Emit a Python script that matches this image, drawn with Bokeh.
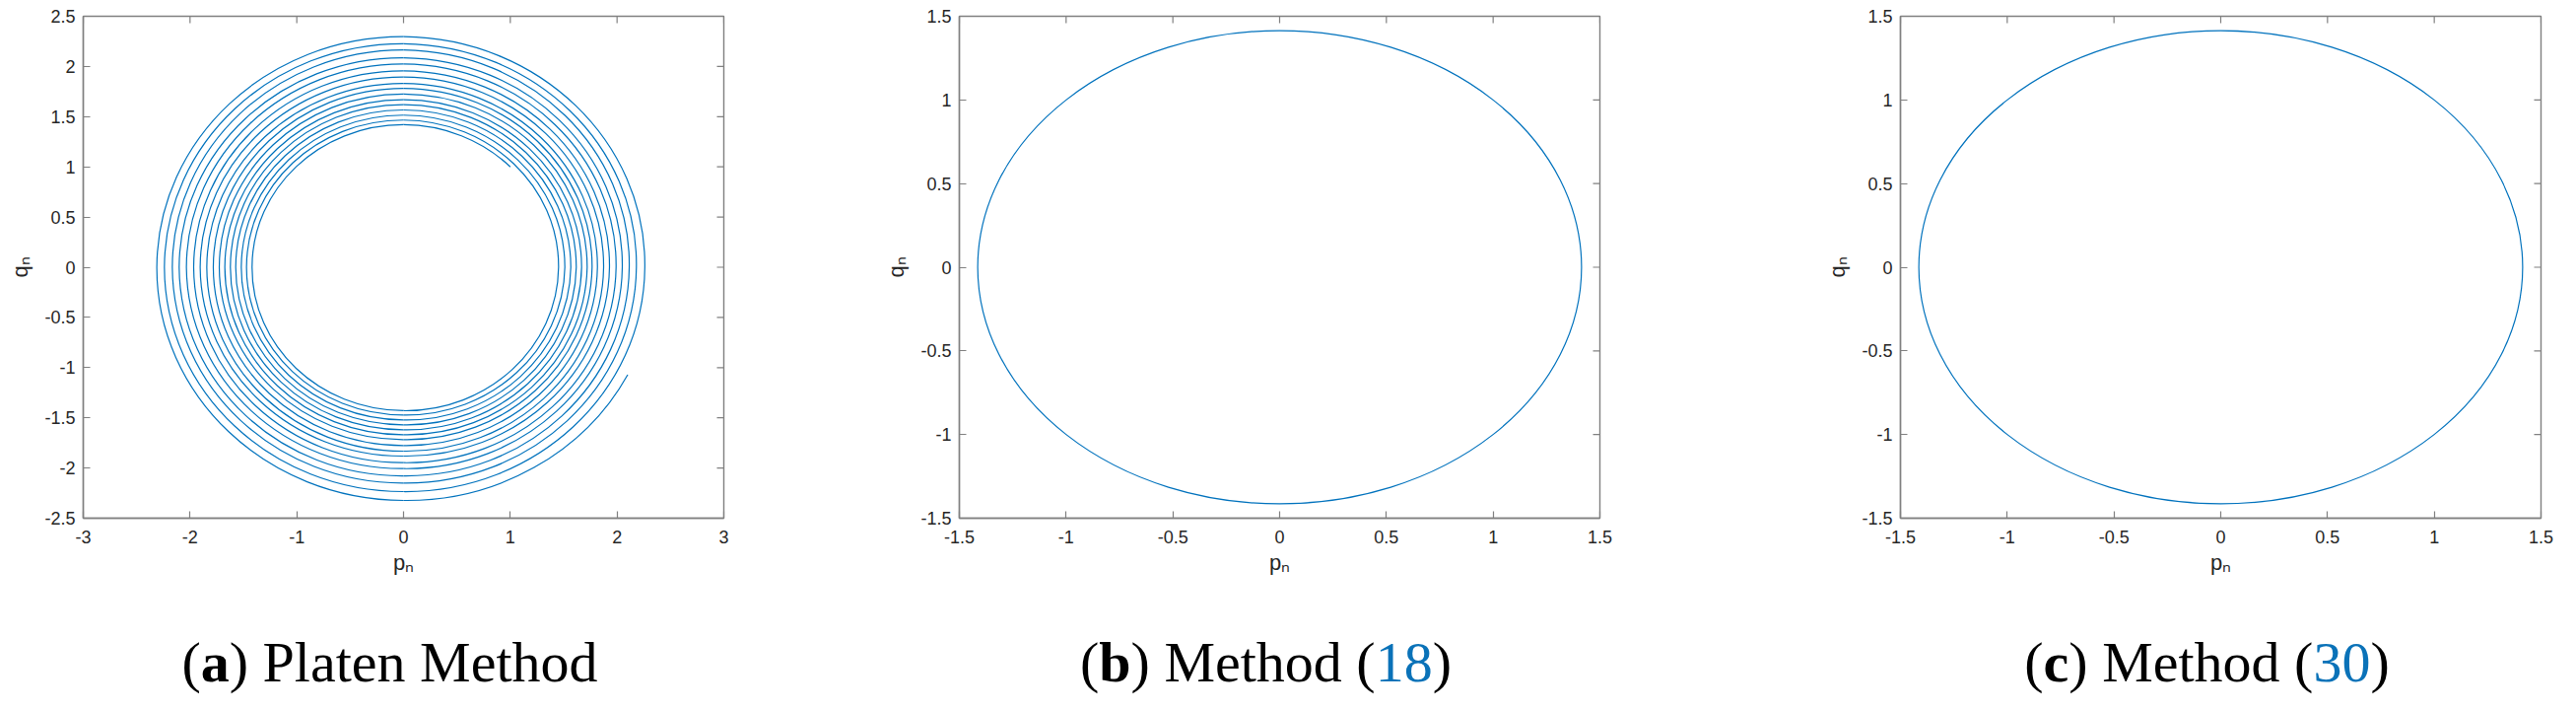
import math
from bokeh.plotting import figure
from bokeh.layouts import row, column
from bokeh.models import Range1d, FixedTicker, ColumnDataSource
from bokeh.core.properties import value
from bokeh.embed import file_html
from bokeh.resources import INLINE

# ---------------- data ----------------
# (a) Platen method: spiral trajectory; start/end points and the radii where
# the curve crosses each axis (innermost turn first)
a_start = (1.00, 1.00)
a_end = (2.10, -1.07)
a_top = [1.420, 1.466, 1.515, 1.567, 1.620, 1.669, 1.725, 1.782, 1.831, 1.894,
         1.957, 2.024, 2.087, 2.164, 2.227, 2.297]
a_left = [1.419, 1.471, 1.520, 1.572, 1.622, 1.674, 1.726, 1.782, 1.843, 1.905,
          1.966, 2.034, 2.102, 2.166, 2.240, 2.311]
a_bottom = [1.429, 1.472, 1.521, 1.570, 1.619, 1.668, 1.717, 1.776, 1.832, 1.881,
            1.947, 2.006, 2.078, 2.150, 2.235, 2.323]
a_right = [1.452, 1.511, 1.567, 1.618, 1.668, 1.720, 1.766, 1.816, 1.874, 1.929,
           1.991, 2.049, 2.114, 2.181, 2.260]

# (b) Method (18) and (c) Method (30): closed orbit (centre, radius)
b_center = (0.0, 0.0)
b_radius = 1.414
c_center = (0.0, 0.0)
c_radius = 1.414

# axes
a_xticks = [-3, -2, -1, 0, 1, 2, 3]
a_xlabels = ["-3", "-2", "-1", "0", "1", "2", "3"]
a_yticks = [-2.5, -2, -1.5, -1, -0.5, 0, 0.5, 1, 1.5, 2, 2.5]
a_ylabels = ["-2.5", "-2", "-1.5", "-1", "-0.5", "0", "0.5", "1", "1.5", "2", "2.5"]
bc_ticks = [-1.5, -1, -0.5, 0, 0.5, 1, 1.5]
bc_labels = ["-1.5", "-1", "-0.5", "0", "0.5", "1", "1.5"]

captions = [
    [("(", "normal", "black"), ("a", "bold", "black"), (") Platen Method", "normal", "black")],
    [("(", "normal", "black"), ("b", "bold", "black"), (") Method (", "normal", "black"),
     ("18", "normal", "#0a72b8"), (")", "normal", "black")],
    [("(", "normal", "black"), ("c", "bold", "black"), (") Method (", "normal", "black"),
     ("30", "normal", "#0a72b8"), (")", "normal", "black")],
]

# ---------------- styling / layout ----------------
LINE = "#0072BD"
AXC = "#808080"
TXT = "#262626"
SANS = "Liberation Sans"
SERIF = "Liberation Serif"
CAP_SIZE = 58
FW, FH = 650, 509
TOTAL_W = 2598
TOP_B, BOT_B = 16, 64
CAP_H = 704 - (TOP_B + FH + BOT_B)
CAP_BASE = CAP_H - 82          # caption baseline above bottom of caption strip
PANEL_BORDERS = [(84, 146), (93, 217), (88, 20)]
TICK_LEN = 7

# Times/Liberation Serif advance widths (em)
W_REG = {"(": 0.333, ")": 0.333, " ": 0.25, "P": 0.556, "l": 0.278, "a": 0.444,
         "t": 0.278, "e": 0.444, "n": 0.5, "M": 0.889, "h": 0.5, "o": 0.5, "d": 0.5,
         "1": 0.5, "8": 0.5, "3": 0.5, "0": 0.5}
W_BOLD = {"a": 0.5, "b": 0.556, "c": 0.444}


def key(v):
    return int(v) if float(v).is_integer() else v


def style_axis(ax):
    ax.axis_line_color = AXC
    ax.axis_line_width = 1.4
    ax.major_tick_line_color = AXC
    ax.major_tick_line_width = 1.2
    ax.major_tick_in = TICK_LEN
    ax.major_tick_out = 0
    ax.minor_tick_line_color = None
    ax.minor_tick_in = 0
    ax.minor_tick_out = 0
    ax.major_label_text_font = SANS
    ax.major_label_text_color = TXT
    ax.major_label_text_font_size = "18px"
    ax.axis_label_text_font = SANS
    ax.axis_label_text_font_style = "normal"
    ax.axis_label_text_color = TXT
    ax.axis_label_text_font_size = "22px"


def make_fig(xr, yr, xt, xl, yt, yl, bl, br):
    p = figure(frame_width=FW, frame_height=FH, title=None,
               x_range=Range1d(*xr), y_range=Range1d(*yr),
               output_backend="svg", toolbar_location=None,
               min_border_left=bl, min_border_right=br,
               min_border_top=TOP_B, min_border_bottom=BOT_B,
               x_axis_label="pₙ", y_axis_label="qₙ")
    p.outline_line_color = AXC
    p.outline_line_width = 1.4
    p.grid.visible = False
    p.background_fill_color = "white"
    p.border_fill_color = "white"

    p.xaxis.ticker = FixedTicker(ticks=xt)
    p.yaxis.ticker = FixedTicker(ticks=yt)
    p.xaxis.major_label_overrides = {key(v): s for v, s in zip(xt, xl)}
    p.yaxis.major_label_overrides = {key(v): s for v, s in zip(yt, yl)}
    for ax in p.xaxis:
        style_axis(ax)
        ax.major_label_standoff = 12
        ax.axis_label_standoff = 4
    for ax in p.yaxis:
        style_axis(ax)
        ax.major_label_standoff = 8
        ax.axis_label_standoff = 9

    # mirrored inward ticks on the top and right edges of the box
    p.ray(x=xt, y=[yr[1]] * len(xt), length=TICK_LEN, length_units="screen",
          angle=-math.pi / 2, line_color=AXC, line_width=1.2)
    p.ray(x=[xr[1]] * len(yt), y=yt, length=TICK_LEN, length_units="screen",
          angle=math.pi, line_color=AXC, line_width=1.2)
    return p


# ---------------- panel (a) ----------------
bl, br = PANEL_BORDERS[0]
pa = make_fig((-3, 3), (-2.5, 2.5), a_xticks, a_xlabels, a_yticks, a_ylabels, bl, br)

pts = [a_start]
for k in range(len(a_top)):
    pts.append((0.0, a_top[k]))
    pts.append((-a_left[k], 0.0))
    pts.append((0.0, -a_bottom[k]))
    if k < len(a_right):
        pts.append((a_right[k], 0.0))
pts.append(a_end)

th = []
for (px, qy) in pts:
    t = math.atan2(qy, px)
    if th:
        while t <= th[-1] + 1e-9:
            t += 2 * math.pi
    th.append(t)
rr = [math.hypot(px, qy) for px, qy in pts]

x0s, y0s, x1s, y1s, cx0s, cy0s, cx1s, cy1s = ([] for _ in range(8))
for i in range(len(pts) - 1):
    d = th[i + 1] - th[i]
    kk = 4.0 / 3.0 * math.tan(d / 4.0)
    rp = (rr[i + 1] - rr[i]) / d
    t0 = (rp * math.cos(th[i]) - rr[i] * math.sin(th[i]),
          rp * math.sin(th[i]) + rr[i] * math.cos(th[i]))
    t1 = (rp * math.cos(th[i + 1]) - rr[i + 1] * math.sin(th[i + 1]),
          rp * math.sin(th[i + 1]) + rr[i + 1] * math.cos(th[i + 1]))
    x0s.append(pts[i][0]); y0s.append(pts[i][1])
    x1s.append(pts[i + 1][0]); y1s.append(pts[i + 1][1])
    cx0s.append(pts[i][0] + kk * t0[0]); cy0s.append(pts[i][1] + kk * t0[1])
    cx1s.append(pts[i + 1][0] - kk * t1[0]); cy1s.append(pts[i + 1][1] - kk * t1[1])

pa.bezier(x0=x0s, y0=y0s, x1=x1s, y1=y1s, cx0=cx0s, cy0=cy0s, cx1=cx1s, cy1=cy1s,
          line_color=LINE, line_width=1.2)

# ---------------- panel (b) ----------------
bl, br = PANEL_BORDERS[1]
pb = make_fig((-1.5, 1.5), (-1.5, 1.5), bc_ticks, bc_labels, bc_ticks, bc_labels, bl, br)
pb.ellipse(x=[b_center[0]], y=[b_center[1]], width=[2 * b_radius], height=[2 * b_radius],
           fill_color=None, line_color=LINE, line_width=1.2)

# ---------------- panel (c) ----------------
bl, br = PANEL_BORDERS[2]
pc = make_fig((-1.5, 1.5), (-1.5, 1.5), bc_ticks, bc_labels, bc_ticks, bc_labels, bl, br)
pc.ellipse(x=[c_center[0]], y=[c_center[1]], width=[2 * c_radius], height=[2 * c_radius],
           fill_color=None, line_color=LINE, line_width=1.2)

# ---------------- caption strip ----------------
cap = figure(width=TOTAL_W, height=CAP_H, title=None,
             x_range=Range1d(0, TOTAL_W), y_range=Range1d(0, CAP_H),
             output_backend="svg", toolbar_location=None,
             x_axis_location=None, y_axis_location=None,
             min_border_left=0, min_border_right=0, min_border_top=0, min_border_bottom=0)
cap.outline_line_color = None
cap.grid.visible = False
cap.border_fill_color = "white"

cx, cy, ctext, cstyle, ccolor = [], [], [], [], []
offset = 0
for (bl, br), caption in zip(PANEL_BORDERS, captions):
    center = offset + bl + FW / 2 - 14
    widths = []
    for txt, st, col in caption:
        tbl = W_BOLD if st == "bold" else W_REG
        widths.append(sum(tbl.get(ch, 0.5) for ch in txt) * CAP_SIZE)
    x0 = center - sum(widths) / 2
    for (txt, st, col), w in zip(caption, widths):
        cx.append(x0); cy.append(CAP_BASE); ctext.append(txt)
        cstyle.append(st); ccolor.append(col)
        x0 += w
    offset += bl + FW + br

src = ColumnDataSource(dict(x=cx, y=cy, text=ctext, style=cstyle, color=ccolor))
cap.text(x="x", y="y", text="text", source=src, text_font=value(SERIF),
         text_font_style="style", text_color="color",
         text_font_size=value(f"{CAP_SIZE}px"),
         text_align="left", text_baseline="alphabetic")

layout = column(row(pa, pb, pc, spacing=0), cap, spacing=0)
open("out.html", "w").write(file_html(layout, INLINE))
